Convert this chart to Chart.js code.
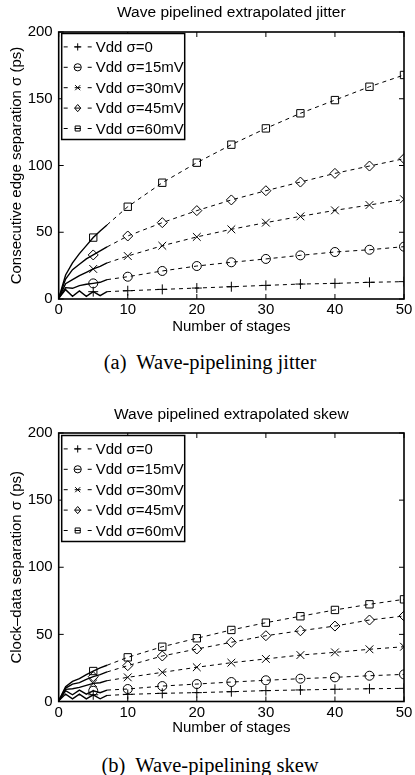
<!DOCTYPE html>
<html>
<head>
<meta charset="utf-8">
<title>Wave pipelined extrapolated jitter and skew</title>
<style>
  body { margin: 0; background: #fff; }
  #wrap { position: relative; width: 415px; height: 775px; overflow: hidden; }
  canvas { position: absolute; left: 0; }
  .caption { position: absolute; left: 0; width: 420px; text-align: center;
             font-family: "Liberation Serif", "Times New Roman", serif; font-size: 20.5px; line-height: 22px; }
</style>
</head>
<body>
<div id="wrap">
  <canvas id="jitterChart" width="415" height="340" style="top:0"></canvas>
  <div class="caption" style="top:351px">(a)&nbsp; Wave-pipelining jitter</div>
  <canvas id="skewChart" width="415" height="340" style="top:401px"></canvas>
  <div class="caption" style="top:754px">(b)&nbsp; Wave-pipelining skew</div>
</div>
<script src="https://cdn.jsdelivr.net/npm/chart.js"></script>
<script>
// series names, same for both plots
const seriesLabels = ['Vdd σ=0', 'Vdd σ=15mV', 'Vdd σ=30mV', 'Vdd σ=45mV', 'Vdd σ=60mV'];

// simulated stages (solid) and extrapolated stages (dashed)
const simStages = [0, 1, 2, 3, 4, 5, 6, 7];
const extStages = [10, 15, 20, 25, 30, 35, 40, 45, 50];

const xTickValues = [0, 10, 20, 30, 40, 50];
const yTickValues = [0, 50, 100, 150, 200];

// (a) jitter, ps
const jitterSim = [
  [0.5, 7, 2, 6, 2, 5.5, 2.5, 5.5],
  [0.5, 8.5, 8, 10, 11, 11.7, 12.5, 14.5],
  [0.5, 11.5, 14.5, 17.5, 20, 22.5, 24.5, 27],
  [0.5, 15, 22, 26, 30, 33, 36, 39],
  [0.5, 18, 27, 34, 40, 46, 51, 55.5]
];
const jitterExt = [
  [6.2, 7.2, 8.2, 9.2, 10.2, 11.2, 11.7, 12.5, 13],
  [16.7, 21, 24.7, 27.5, 30, 32.7, 35.2, 36.9, 39.2],
  [32.2, 39.9, 46.5, 52.2, 57.2, 61.9, 66.4, 70.4, 74.7],
  [47.2, 57.2, 66.2, 74.2, 81.1, 87.6, 94.1, 99.6, 105.1],
  [69.1, 87.1, 102.1, 115.6, 127.8, 139.1, 149, 159, 167.8]
];

// (b) skew, ps
const skewSim = [
  [0.5, 5.5, 2, 5.5, 2, 5, 2, 4.5],
  [0.5, 8, 5, 8.5, 5.5, 8, 6.5, 8.5],
  [0.5, 9, 9.5, 10.5, 12, 13.5, 14, 15.5],
  [0.5, 10, 13, 14, 16.5, 18.5, 20, 22],
  [0.5, 11, 15, 17, 20, 22.7, 25, 27]
];
const skewExt = [
  [5.3, 6.1, 6.6, 7.3, 8.1, 8.6, 9.1, 9.5, 9.8],
  [9.3, 11.5, 13.0, 14.5, 15.8, 17.0, 18.0, 19.2, 20.2],
  [18.0, 21.7, 25.5, 28.9, 31.7, 34.6, 36.6, 38.9, 40.8],
  [26.7, 33.9, 39.1, 44.1, 49.0, 52.7, 56.2, 60.7, 63.7],
  [32.9, 40.8, 47.1, 53.3, 58.7, 63.5, 68.2, 72.4, 76.1]
];

const FONT = '"Liberation Sans", Arial, Helvetica, sans-serif';
Chart.defaults.font.family = FONT;
Chart.defaults.font.size = 15;
Chart.defaults.color = '#000';

const markers = [
  { shape: 'cross', r: 5 },
  { shape: 'circle', r: 4.5 },
  { shape: 'crossRot', r: 5.5 },
  { shape: 'rectRot', r: 5 },
  { shape: 'rect', r: 5.2 }
];

function drawMarker(ctx, shape, x, y, r) {
  ctx.beginPath();
  if (shape === 'cross') {
    ctx.moveTo(x - r, y); ctx.lineTo(x + r, y);
    ctx.moveTo(x, y - r); ctx.lineTo(x, y + r);
  } else if (shape === 'crossRot') {
    const d = r * 0.7;
    ctx.moveTo(x - d, y - d); ctx.lineTo(x + d, y + d);
    ctx.moveTo(x - d, y + d); ctx.lineTo(x + d, y - d);
  } else if (shape === 'circle') {
    ctx.arc(x, y, r, 0, Math.PI * 2);
  } else if (shape === 'rectRot') {
    ctx.moveTo(x - r * 0.85, y); ctx.lineTo(x, y - r); ctx.lineTo(x + r * 0.85, y); ctx.lineTo(x, y + r);
    ctx.closePath();
  } else {
    const d = r * 0.7;
    ctx.rect(x - d, y - d, 2 * d, 2 * d);
  }
  ctx.stroke();
}

// matlab style box, inward ticks, title and boxed legend
const matlabFrame = {
  id: 'matlabFrame',
  afterDatasetsDraw(chart, args, opts) {
    const { ctx, chartArea: a, scales: { x, y } } = chart;
    ctx.save();
    ctx.strokeStyle = '#000';
    ctx.lineWidth = 1;
    ctx.beginPath();
    x.ticks.forEach(t => {
      const px = x.getPixelForValue(t.value);
      ctx.moveTo(px, a.bottom); ctx.lineTo(px, a.bottom - 5);
      ctx.moveTo(px, a.top); ctx.lineTo(px, a.top + 5);
    });
    y.ticks.forEach(t => {
      const py = y.getPixelForValue(t.value);
      ctx.moveTo(a.left, py); ctx.lineTo(a.left + 5, py);
      ctx.moveTo(a.right, py); ctx.lineTo(a.right - 5, py);
    });
    ctx.stroke();
    ctx.lineWidth = 1.6;
    ctx.strokeRect(a.left, a.top, a.right - a.left, a.bottom - a.top);

    // title over the plot centre
    ctx.fillStyle = '#000';
    ctx.font = '15.5px ' + FONT;
    ctx.textAlign = 'center';
    ctx.textBaseline = 'middle';
    ctx.fillText(opts.title, (a.left + a.right) / 2, opts.titleY);

    // legend
    ctx.font = '15px ' + FONT;
    const left = a.left + 3, top = a.top + opts.legendDy, w = 123, h = 106;
    ctx.fillStyle = '#fff';
    ctx.fillRect(left, top, w, h);
    ctx.lineWidth = 1.5;
    ctx.strokeRect(left, top, w, h);
    ctx.fillStyle = '#000';
    ctx.textAlign = 'left';
    seriesLabels.forEach((lab, i) => {
      const ly = top + 13.4 + i * 20.4;
      const cx = left + 16;
      ctx.lineWidth = 1;
      ctx.beginPath();
      ctx.moveTo(left + 2, ly); ctx.lineTo(left + 6, ly);
      ctx.moveTo(cx - 3, ly); ctx.lineTo(cx + 3, ly);
      ctx.moveTo(left + 26, ly); ctx.lineTo(left + 30, ly);
      ctx.stroke();
      drawMarker(ctx, markers[i].shape, cx, ly, 3.6);
      ctx.fillText(lab, left + 34, ly + 1);
    });
    ctx.restore();
  }
};

function buildDatasets(sim, ext) {
  const ds = [];
  sim.forEach((row, i) => {
    const m = markers[i];
    ds.push({
      label: seriesLabels[i],
      data: simStages.map((s, k) => ({ x: s, y: row[k] })),
      borderColor: '#000',
      borderWidth: 1.4,
      pointStyle: m.shape,
      pointRadius: simStages.map(s => s === 5 ? m.r : 0),
      pointBorderColor: '#000',
      pointBackgroundColor: 'rgba(0,0,0,0)',
      pointBorderWidth: 1
    });
    const last = simStages.length - 1;
    ds.push({
      label: seriesLabels[i] + ' extrapolated',
      data: [{ x: simStages[last], y: row[last] }].concat(ext[i].map((v, k) => ({ x: extStages[k], y: v }))),
      borderColor: '#000',
      borderWidth: 1,
      borderDash: [4, 4],
      pointStyle: m.shape,
      pointRadius: [0].concat(extStages.map(() => m.r)),
      pointBorderColor: '#000',
      pointBackgroundColor: 'rgba(0,0,0,0)',
      pointBorderWidth: 1
    });
  });
  return ds;
}

function makeChart(id, sim, ext, title, yTitle, plotBottom, titleY, legendDy) {
  const canvasH = 340;
  return new Chart(document.getElementById(id), {
    type: 'line',
    data: { datasets: buildDatasets(sim, ext) },
    options: {
      responsive: false,
      animation: false,
      events: [],
      layout: { padding: { top: 32, right: 11, left: 0, bottom: 0 } },
      scales: {
        x: {
          type: 'linear',
          min: 0, max: 50,
          afterBuildTicks: s => { s.ticks = xTickValues.map(v => ({ value: v })); },
          afterFit: s => { s.height = canvasH - plotBottom; },
          grid: { display: false, drawTicks: false },
          border: { display: false },
          ticks: { padding: 2, color: '#000', font: { size: 15 } },
          title: { display: true, text: 'Number of stages', color: '#000', font: { size: 15 }, padding: { top: 0, bottom: 4 } }
        },
        y: {
          min: 0, max: 200,
          afterBuildTicks: s => { s.ticks = yTickValues.map(v => ({ value: v })); },
          afterFit: s => { s.width = 58.7; },
          grid: { display: false, drawTicks: false },
          border: { display: false },
          ticks: { padding: 6, color: '#000', font: { size: 15 } },
          title: { display: true, text: yTitle, color: '#000', font: { size: 15 }, padding: { top: 8, bottom: 0 } }
        }
      },
      plugins: {
        legend: { display: false },
        tooltip: { enabled: false },
        matlabFrame: { title: title, titleY: titleY, legendDy: legendDy }
      }
    },
    plugins: [matlabFrame]
  });
}

makeChart('jitterChart', jitterSim, jitterExt, 'Wave pipelined extrapolated jitter',
  'Consecutive edge separation σ (ps)', 299, 13, 1.5);
makeChart('skewChart', skewSim, skewExt, 'Wave pipelined extrapolated skew',
  'Clock–data separation σ (ps)', 300.5, 14, 2.5);
</script>
</body>
</html>
